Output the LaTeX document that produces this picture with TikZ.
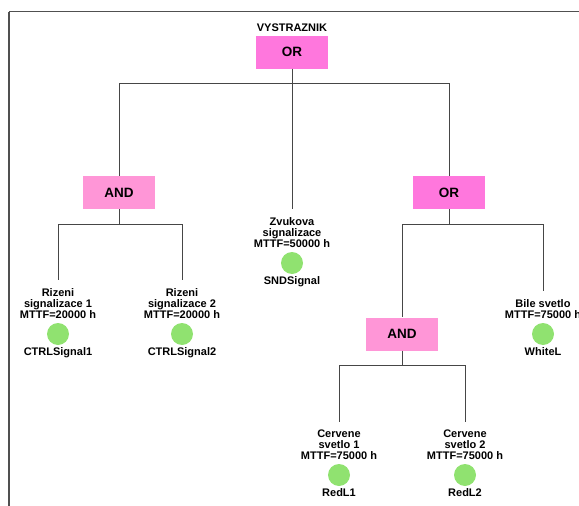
\documentclass[tikz,border=0pt]{standalone}
\usepackage{fontspec}
\setmainfont{Liberation Sans}
\definecolor{orfill}{RGB}{255,119,221}
\definecolor{andfill}{RGB}{255,150,215}
\definecolor{evgreen}{RGB}{144,226,112}
\definecolor{wiregray}{RGB}{70,70,70}
\definecolor{framegray}{RGB}{80,80,80}
\begin{document}
\begin{tikzpicture}[x=1pt,y=-1pt,
  wire/.style={draw=wiregray, line width=0.9pt},
  gatebox/.style={rectangle, minimum width=72pt, minimum height=33pt, inner sep=0pt,
    font=\fontsize{13.5}{14}\selectfont\bfseries},
  orgate/.style={gatebox, fill=orfill},
  andgate/.style={gatebox, fill=andfill},
  basic/.style={circle, fill=evgreen, minimum size=22pt, inner sep=0pt},
  desc/.style={font=\fontsize{11}{11}\selectfont\bfseries, align=center, inner sep=0pt,
    text=black, label distance=3.5pt},
  evname/.style={font=\fontsize{11}{11}\selectfont\bfseries, inner sep=0pt,
    text=black, label distance=2pt}
]
\useasboundingbox (0,0) rectangle (579,506);
\clip (0,0) rectangle (579,506);

% sheet border
\draw[draw=framegray, line width=1.2pt] (579,11.5) -- (8.5,11.5);
\draw[draw=framegray, line width=1.8pt] (9,11.5) -- (9,506);

% gates
\node[orgate, label={[name=topname, desc, label distance=3pt]above:VYSTRAZNIK}] (g0) at (292,52) {OR};
\node[andgate] (g1) at (119,192.5) {AND};
\node[orgate] (g2) at (449,192.5) {OR};
\node[andgate] (g3) at (402,334) {AND};

% basic events
\node[basic,
  label={[name=e1d, desc]above:Rizeni\\signalizace 1\\MTTF=20000 h},
  label={[name=e1n, evname]below:CTRLSignal1}] (e1) at (58,334) {};
\node[basic,
  label={[name=e2d, desc]above:Rizeni\\signalizace 2\\MTTF=20000 h},
  label={[name=e2n, evname]below:CTRLSignal2}] (e2) at (182,334) {};
\node[basic,
  label={[name=e3d, desc]above:Zvukova\\signalizace\\MTTF=50000 h},
  label={[name=e3n, evname]below:SNDSignal}] (e3) at (292,263) {};
\node[basic,
  label={[name=e4d, desc]above:Bile svetlo\\MTTF=75000 h},
  label={[name=e4n, evname]below:WhiteL}] (e4) at (543,334) {};
\node[basic,
  label={[name=e5d, desc]above:Cervene\\svetlo 1\\MTTF=75000 h},
  label={[name=e5n, evname]below:RedL1}] (e5) at (339,475) {};
\node[basic,
  label={[name=e6d, desc]above:Cervene\\svetlo 2\\MTTF=75000 h},
  label={[name=e6n, evname]below:RedL2}] (e6) at (465,475) {};

% connectors
\draw[wire] (g0.south) -- ++(0,15) coordinate (j0);
\draw[wire] (j0) -| (g1.north);
\draw[wire] (j0) -| (g2.north);
\draw[wire] (j0) -- ([yshift=8.5pt]e3d.north);

\draw[wire] (g1.south) -- ++(0,15) coordinate (j1);
\draw[wire] (j1) -| ([yshift=8.5pt]e1d.north);
\draw[wire] (j1) -| ([yshift=8.5pt]e2d.north);

\draw[wire] (g2.south) -- ++(0,15) coordinate (j2);
\draw[wire] (j2) -| (g3.north);
\draw[wire] (j2) -| ([yshift=8.5pt]e4d.north);

\draw[wire] (g3.south) -- ++(0,15) coordinate (j3);
\draw[wire] (j3) -| ([yshift=8.5pt]e5d.north);
\draw[wire] (j3) -| ([yshift=8.5pt]e6d.north);
\end{tikzpicture}
\end{document}
